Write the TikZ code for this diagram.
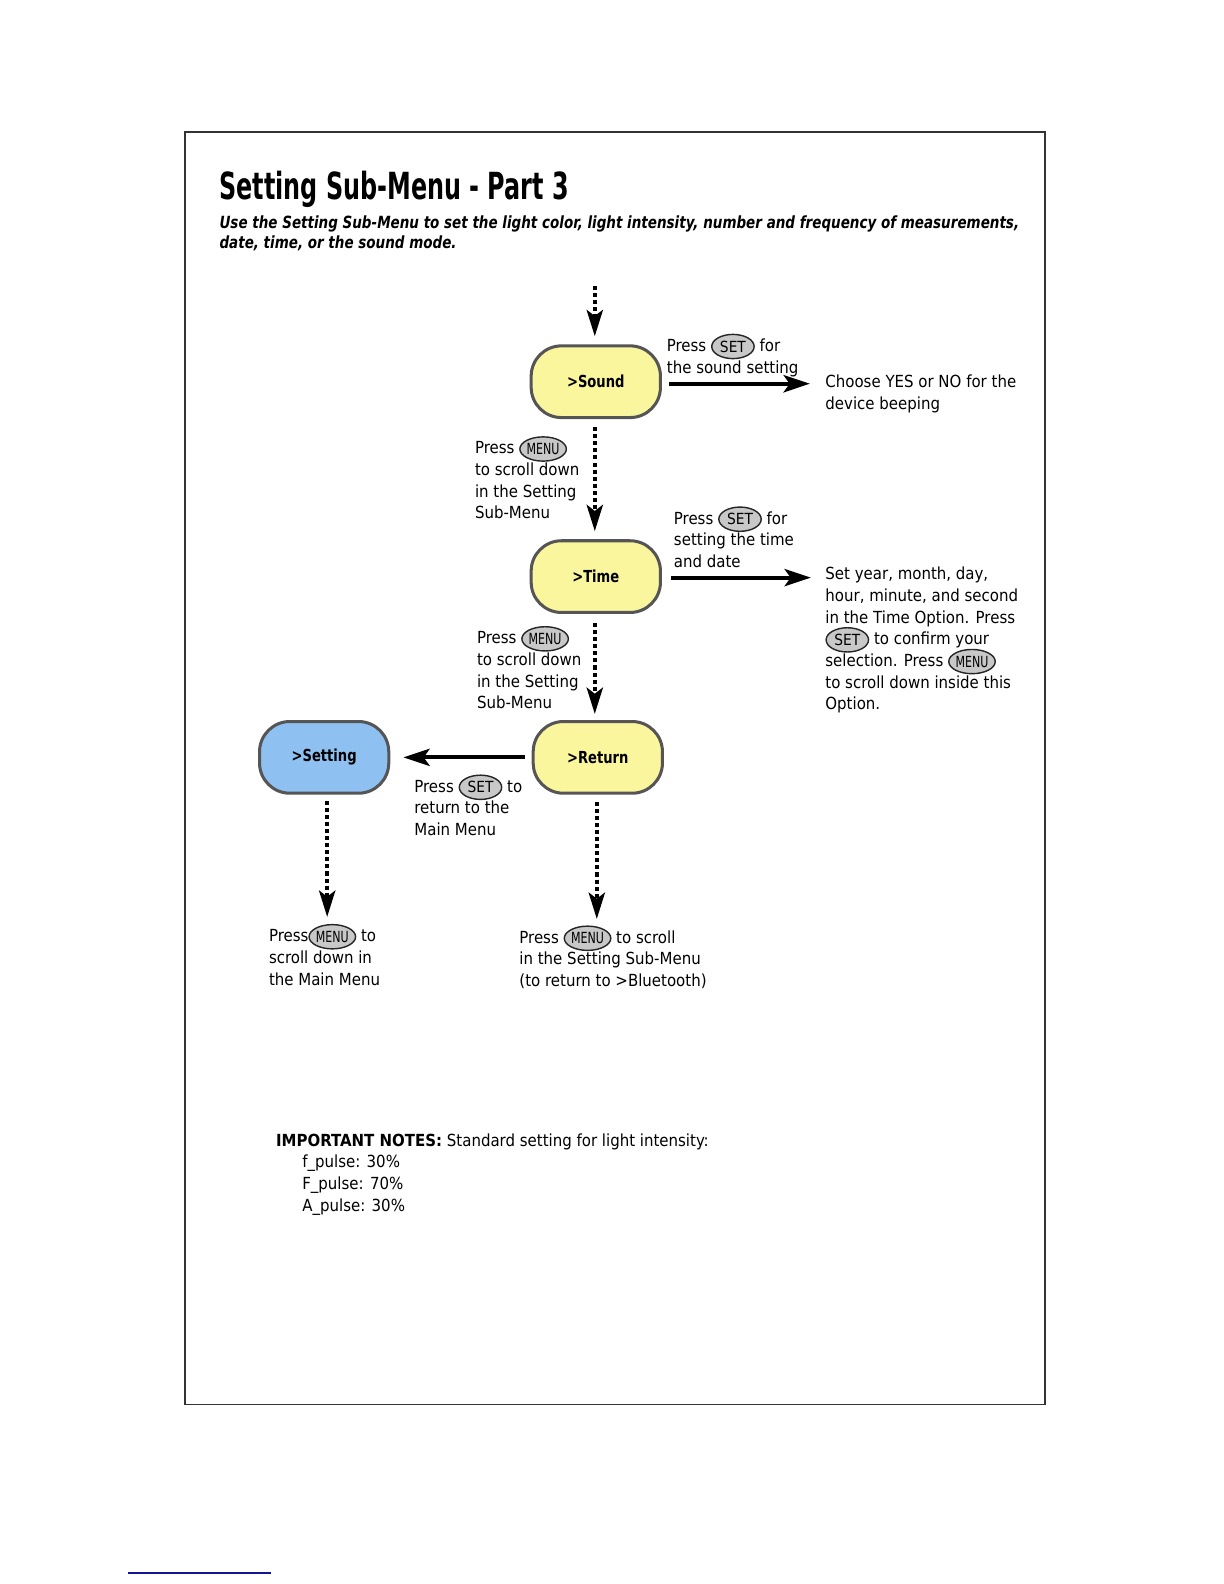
\documentclass[tikz,border=0pt]{standalone}
\usepackage{fontspec}
\setmainfont{DejaVu Sans Condensed}
\usetikzlibrary{arrows.meta,shapes.geometric}
\definecolor{yel}{RGB}{250,246,158}
\definecolor{blu}{RGB}{142,192,242}
\definecolor{bord}{RGB}{85,85,85}
\definecolor{btnfill}{RGB}{200,200,200}
\definecolor{navy}{RGB}{20,20,150}
\newcommand{\btnshape}[1]{\raisebox{2.4pt}{\tikz[baseline={(b.center)}]\node[ellipse,draw=black!85,line width=0.7pt,fill=btnfill,minimum width=21pt,minimum height=12pt,inner sep=0pt,font=\fontsize{7.6}{7.6}\selectfont] (b) {#1};}}
\newcommand{\btnset}{\smash{\btnshape{SET}}}
\newcommand{\btnmenu}{\smash{\btnshape{\scalebox{0.8}[1]{MENU}}}}
\tikzset{
  statebox/.style={rounded corners=15pt,draw=bord,line width=1.5pt,minimum width=64pt,minimum height=35.5pt,font=\fontsize{8.2}{10}\selectfont\bfseries},
  dotarrow/.style={line width=2pt,dash pattern=on 2pt off 1.5pt,-{Stealth[length=13pt,width=8pt,inset=3pt]}},
  solidarrow/.style={line width=2pt,-{Stealth[length=13pt,width=8.5pt,inset=3pt]}},
  lbl/.style={anchor=north west,inner sep=0pt,align=left,font=\fontsize{8.25}{10.75}\selectfont}
}
\begin{document}
\begin{tikzpicture}[x=0.5pt,y=-0.5pt]
\draw[line width=0.8pt,black!80] (183,131) rectangle (1035,1391);
\draw[navy,line width=1pt] (127,1558) -- (268,1558);
% title
\node[anchor=base west,inner sep=0pt,font=\fontsize{18.5}{20}\selectfont\bfseries] (title) at (217,198) {\scalebox{0.71}[1]{Setting Sub-Menu - Part 3}};
\node[anchor=north west,inner sep=0pt,align=left,font=\fontsize{8.3}{10}\selectfont\bfseries\itshape] (sub) at (217,213) {\scalebox{0.895}[1]{Use the Setting Sub-Menu to set the light color, light intensity, number and frequency of measurements,}\\\scalebox{0.895}[1]{date, time, or the sound mode.}};
% states
\node[statebox,fill=yel] (sound) at (590,378) {\scalebox{0.88}[1]{>Sound}};
\node[statebox,fill=yel] (time) at (590,571) {\scalebox{0.88}[1]{>Time}};
\node[statebox,fill=yel] (ret) at (592,750) {\scalebox{0.88}[1]{>Return}};
\node[statebox,fill=blu] (setting) at (321,750) {\scalebox{0.88}[1]{>Setting}};
% coordinates
\coordinate (top) at (589,283);
\coordinate (soundR) at (802,380);
\coordinate (timeR) at (803,572);
\coordinate (setD) at (324,908);
\coordinate (retD) at (591,910);
% connectors
\draw[dotarrow,shorten >=4pt] (top) -- (top |- sound.north);
\draw[dotarrow,shorten <=4pt,shorten >=4pt] (sound.south -| top) -- (top |- time.north);
\draw[solidarrow,shorten <=3.5pt] (sound.east |- soundR) -- (soundR);
\draw[solidarrow,shorten <=4.5pt] (time.east |- timeR) -- (timeR);
\draw[dotarrow,shorten <=4.5pt,shorten >=3pt] (time.south -| top) -- (top |- ret.north);
\draw[solidarrow,shorten <=3.5pt,shorten >=6.5pt] (ret.west) -- (setting.east);
\draw[dotarrow,shorten <=3pt] (setting.south -| setD) -- (setD);
\draw[dotarrow,shorten <=3.5pt] (ret.south -| retD) -- (retD);
% labels
\node[lbl] (l1) at (660,335) {Press \btnset{} for\\the sound setting};
\node[lbl] (l2) at (817,371) {Choose YES or NO for the\\device beeping};
\node[lbl] (l3) at (470,437) {Press \btnmenu\\to scroll down\\in the Setting\\Sub-Menu};
\node[lbl] (l4) at (667,506) {Press \btnset{} for\\setting the time\\and date};
\node[lbl] (l5) at (817,561) {Set year, month, day,\\hour, minute, and second\\in the Time Option. Press\\\btnset{} to confirm your\\selection. Press \btnmenu\\to scroll down inside this\\Option.};
\node[lbl] (l6) at (472,625) {Press \btnmenu\\to scroll down\\in the Setting\\Sub-Menu};
\node[lbl] (l7) at (410,772) {Press \btnset{} to\\return to the\\Main Menu};
\node[lbl] (l8) at (266,920) {Press\btnmenu{} to\\scroll down in\\the Main Menu};
\node[lbl] (l9) at (514,921) {Press \btnmenu{} to scroll\\in the Setting Sub-Menu\\(to return to >Bluetooth)};
\node[lbl] (notes) at (273,1122) {\textbf{IMPORTANT NOTES:} Standard setting for light intensity:\\\hspace*{13pt}f\_pulse: 30\%\\\hspace*{13pt}F\_pulse: 70\%\\\hspace*{13pt}A\_pulse: 30\%};
\pgfresetboundingbox
\useasboundingbox (0,0) rectangle (1212,1568.6);
\end{tikzpicture}
\end{document}
